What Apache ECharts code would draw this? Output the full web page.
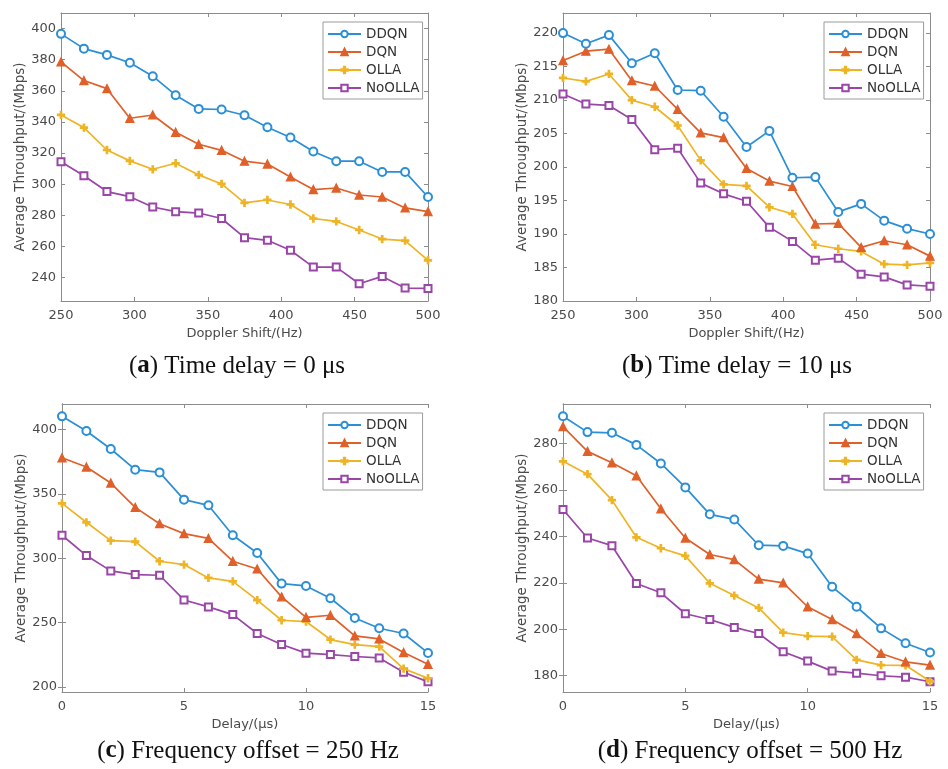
<!DOCTYPE html>
<html>
<head>
<meta charset="utf-8">
<script src="https://cdn.jsdelivr.net/npm/echarts@6/dist/echarts.min.js"></script>
<style>
  html, body { margin: 0; padding: 0; background: #fff; }
  #chart { width: 948px; height: 769px; }
</style>
</head>
<body>
<div id="chart"></div>
<script>
const seriesNames = ['DDQN', 'DQN', 'OLLA', 'NoOLLA'];

// x values
const dopplerShift = [250, 265.6, 281.3, 296.9, 312.5, 328.1, 343.8, 359.4, 375, 390.6, 406.3, 421.9, 437.5, 453.1, 468.8, 484.4, 500];
const delayUs = [0, 1, 2, 3, 4, 5, 6, 7, 8, 9, 10, 11, 12, 13, 14, 15];

// (a) time delay = 0 us
const ddqnA = [396.6, 387.1, 383.1, 378.0, 369.4, 357.2, 348.4, 348.0, 344.3, 336.6, 330.0, 321.0, 314.8, 314.8, 307.9, 307.9, 291.8];
const dqnA = [378.6, 366.6, 361.4, 342.4, 344.5, 333.4, 325.7, 321.8, 314.8, 313.0, 304.7, 296.6, 297.6, 293.1, 291.8, 284.8, 282.4];
const ollaA = [344.5, 336.4, 322.0, 315.0, 309.6, 313.5, 306.0, 300.2, 288.0, 289.9, 287.0, 278.0, 276.1, 270.6, 264.8, 263.8, 251.1];
const noollaA = [314.5, 305.5, 295.3, 292.0, 285.4, 282.4, 281.5, 278.0, 265.7, 264.0, 257.6, 246.8, 246.8, 236.1, 240.8, 233.3, 233.1];

// (b) time delay = 10 us
const ddqnB = [220.0, 218.4, 219.7, 215.5, 217.0, 211.5, 211.4, 207.5, 203.0, 205.4, 198.4, 198.5, 193.3, 194.5, 192.0, 190.8, 190.0];
const dqnB = [215.9, 217.3, 217.6, 212.9, 212.1, 208.6, 205.1, 204.4, 199.8, 197.9, 197.1, 191.5, 191.6, 188.0, 189.0, 188.4, 186.7];
const ollaB = [213.3, 212.8, 213.9, 210.0, 209.0, 206.2, 201.0, 197.4, 197.2, 194.0, 193.0, 188.4, 187.8, 187.4, 185.5, 185.4, 185.7];
const noollaB = [210.9, 209.4, 209.2, 207.1, 202.6, 202.8, 197.6, 196.0, 194.9, 191.0, 188.9, 186.1, 186.4, 184.0, 183.6, 182.4, 182.2];

// (c) frequency offset = 250 Hz
const ddqnC = [410.4, 399.0, 385.0, 368.9, 366.8, 345.6, 341.2, 317.9, 304.1, 280.3, 278.5, 268.9, 253.6, 245.6, 241.5, 226.4];
const dqnC = [378.2, 371.0, 358.5, 339.6, 326.9, 319.2, 315.5, 297.7, 291.7, 270.0, 254.1, 255.7, 239.6, 237.3, 226.7, 217.6];
const ollaC = [342.7, 328.0, 313.7, 313.0, 297.7, 295.1, 284.7, 282.1, 267.4, 251.8, 250.8, 236.8, 232.9, 231.3, 214.2, 206.7];
const noollaC = [317.9, 302.1, 290.2, 287.3, 286.8, 267.6, 262.2, 256.2, 241.5, 232.9, 226.2, 225.1, 223.6, 222.5, 211.4, 203.9];

// (d) frequency offset = 500 Hz
const ddqnD = [291.7, 284.9, 284.6, 279.4, 271.4, 261.1, 249.5, 247.3, 236.2, 235.9, 232.6, 218.3, 209.7, 200.4, 194.0, 190.0];
const dqnD = [287.3, 276.6, 271.7, 266.1, 251.9, 239.3, 232.2, 230.0, 221.6, 220.0, 209.7, 204.2, 198.1, 189.6, 186.0, 184.6];
const ollaD = [272.3, 266.8, 255.6, 239.6, 234.9, 231.6, 219.8, 214.5, 209.2, 198.6, 197.1, 196.8, 186.8, 184.6, 184.5, 177.6];
const noollaD = [251.6, 239.3, 236.0, 219.7, 215.7, 206.7, 204.2, 200.8, 198.2, 190.3, 186.3, 182.0, 181.1, 180.0, 179.4, 177.4];

// tick labels
const yTicksA = [240, 260, 280, 300, 320, 340, 360, 380, 400];
const yTicksB = [180, 185, 190, 195, 200, 205, 210, 215, 220];
const yTicksC = [200, 250, 300, 350, 400];
const yTicksD = [180, 200, 220, 240, 260, 280];

const captions = [
  { letter: 'a', text: ' Time delay = 0 μs' },
  { letter: 'b', text: ' Time delay = 10 μs' },
  { letter: 'c', text: ' Frequency offset = 250 Hz' },
  { letter: 'd', text: ' Frequency offset = 500 Hz' }
];

const colors = ['#2a8fd6', '#e0602a', '#efb424', '#9a45a8'];
const symbols = ['emptyCircle', 'triangle', 'path://M4,0H6V4H10V6H6V10H4V6H0V4H4Z', 'emptyRect'];
const symbolSizes = [8, 8, 7, 7];

const axisColor = '#8c8c8c';
const labelColor = '#4a4a4a';
const sansFont = 'DejaVu Sans';

const panels = [
  { grid: { left: 61, top: 13, width: 367, height: 288 }, x: dopplerShift, xMin: 250, xMax: 500, xInt: 50, xName: 'Doppler Shift/(Hz)', yMin: 225, yMax: 410, yTicks: yTicksA, data: [ddqnA, dqnA, ollaA, noollaA], legend: [323, 22], caption: [237, 366] },
  { grid: { left: 563, top: 13, width: 367, height: 288 }, x: dopplerShift, xMin: 250, xMax: 500, xInt: 50, xName: 'Doppler Shift/(Hz)', yMin: 180, yMax: 223, yTicks: yTicksB, data: [ddqnB, dqnB, ollaB, noollaB], legend: [824, 22], caption: [737, 366] },
  { grid: { left: 62, top: 404, width: 366, height: 288 }, x: delayUs, xMin: 0, xMax: 15, xInt: 5, xName: 'Delay/(μs)', yMin: 196, yMax: 420, yTicks: yTicksC, data: [ddqnC, dqnC, ollaC, noollaC], legend: [323, 413], caption: [248, 751] },
  { grid: { left: 563, top: 404, width: 367, height: 288 }, x: delayUs, xMin: 0, xMax: 15, xInt: 5, xName: 'Delay/(μs)', yMin: 173, yMax: 297, yTicks: yTicksD, data: [ddqnD, dqnD, ollaD, noollaD], legend: [824, 413], caption: [750, 751] }
];

const grids = [];
const xAxes = [];
const yAxes = [];
const legends = [];
const series = [];
const graphics = [];

panels.forEach((p, gi) => {
  grids.push(Object.assign({ containLabel: false }, p.grid));

  // bottom axis with labels, top axis mirrors ticks (MATLAB box)
  xAxes.push({
    type: 'value', gridIndex: gi, min: p.xMin, max: p.xMax, interval: p.xInt,
    name: p.xName, nameLocation: 'middle', nameGap: 26,
    nameTextStyle: { color: labelColor, fontSize: 13, fontFamily: sansFont },
    axisLine: { show: true, lineStyle: { color: axisColor, width: 1 } },
    axisTick: { show: true, inside: true, length: 4, lineStyle: { color: axisColor } },
    axisLabel: { color: labelColor, fontSize: 13, fontFamily: sansFont, margin: 8 },
    splitLine: { show: false }
  });
  xAxes.push({
    type: 'value', gridIndex: gi, position: 'top', min: p.xMin, max: p.xMax, interval: p.xInt,
    axisLine: { show: true, lineStyle: { color: axisColor, width: 1 } },
    axisTick: { show: true, inside: true, length: 4, lineStyle: { color: axisColor } },
    axisLabel: { show: false },
    splitLine: { show: false }
  });
  yAxes.push({
    type: 'value', gridIndex: gi, min: p.yMin, max: p.yMax,
    name: 'Average Throughput/(Mbps)', nameLocation: 'middle', nameGap: 28,
    nameTextStyle: { color: labelColor, fontSize: 13.5, fontFamily: sansFont },
    axisLine: { show: true, lineStyle: { color: axisColor, width: 1 } },
    axisTick: { show: true, inside: true, length: 4, customValues: p.yTicks, lineStyle: { color: axisColor } },
    axisLabel: { color: labelColor, fontSize: 13, fontFamily: sansFont, margin: 5, customValues: p.yTicks },
    splitLine: { show: false }
  });
  yAxes.push({
    type: 'value', gridIndex: gi, position: 'right', min: p.yMin, max: p.yMax,
    axisLine: { show: true, lineStyle: { color: axisColor, width: 1 } },
    axisTick: { show: true, inside: true, length: 4, customValues: p.yTicks, lineStyle: { color: axisColor } },
    axisLabel: { show: false, customValues: p.yTicks },
    splitLine: { show: false }
  });

  legends.push({
    data: seriesNames,
    orient: 'vertical',
    left: p.legend[0], top: p.legend[1],
    itemWidth: 33, itemHeight: 8, itemGap: 4,
    padding: [5, 3, 4, 4],
    borderColor: '#9a9a9a', borderWidth: 1, borderRadius: 0,
    backgroundColor: '#fff',
    textStyle: { color: '#333', fontSize: 13.5, fontFamily: sansFont }
  });

  p.data.forEach((vals, si) => {
    series.push({
      name: seriesNames[si],
      type: 'line',
      xAxisIndex: gi * 2,
      yAxisIndex: gi * 2,
      data: p.x.map((xv, i) => [xv, vals[i]]),
      symbol: symbols[si],
      symbolSize: symbolSizes[si],
      showAllSymbol: true,
      color: colors[si],
      lineStyle: { width: 1.7, color: colors[si] },
      itemStyle: { color: colors[si], borderColor: colors[si], borderWidth: 1.3 },
      animation: false,
      z: 10 - si
    });
  });

  const cap = captions[gi];
  graphics.push({
    type: 'text',
    x: p.caption[0],
    y: p.caption[1],
    style: {
      text: '({b|' + cap.letter + '})' + cap.text,
      fill: '#111',
      fontSize: 25,
      fontFamily: 'Liberation Serif',
      textAlign: 'center',
      textVerticalAlign: 'middle',
      rich: {
        b: { fontWeight: 'bold', fontSize: 25, fontFamily: 'Liberation Serif', fill: '#111' }
      }
    }
  });
});

const chart = echarts.init(document.getElementById('chart'), null, { renderer: 'canvas' });
chart.setOption({
  backgroundColor: '#fff',
  animation: false,
  grid: grids,
  xAxis: xAxes,
  yAxis: yAxes,
  legend: legends,
  series: series,
  graphic: graphics
});
</script>
</body>
</html>
